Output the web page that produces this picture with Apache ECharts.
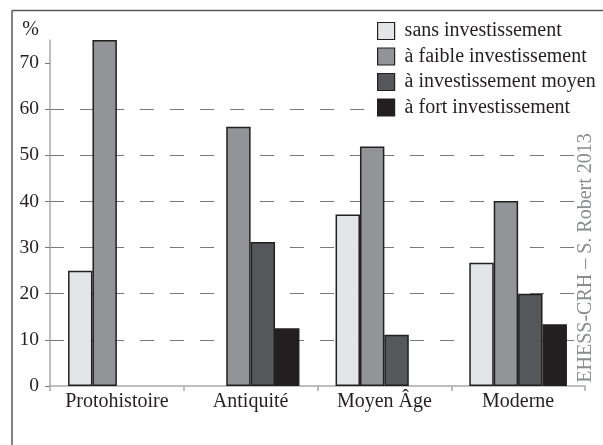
<!DOCTYPE html>
<html>
<head>
<meta charset="utf-8">
<script src="https://cdn.jsdelivr.net/npm/echarts@6/dist/echarts.min.js"></script>
<style>
html,body{margin:0;padding:0;background:#fff;}
#chart{width:603px;height:445px;}
</style>
</head>
<body>
<div id="chart"></div>
<script>
var periodes = ['Protohistoire', 'Antiquité', 'Moyen Âge', 'Moderne'];
var sansInv   = [25, '-', 37.2, 26.7];
var faibleInv = [75, 56.2, 51.9, 40.1];
var moyenInv  = ['-', 31.2, 11.1, 20.0];
var fortInv   = ['-', 12.5, '-', 13.4];
var yTicks = [0, 10, 20, 30, 40, 50, 60, 70];

var serif = '"Liberation Serif", "Times New Roman", serif';
var encre = '#231f20';

function barre(nom, data, couleur) {
	return {
		name: nom,
		type: 'bar',
		data: data,
		barGap: '0%',
		barCategoryGap: '27%',
		itemStyle: { color: couleur, borderColor: encre, borderWidth: 1.5 }
	};
}

var chart = echarts.init(document.getElementById('chart'));
chart.setOption({
	animation: false,
	backgroundColor: '#fff',
	grid: { left: 50, right: 18, top: 40, bottom: 59 },
	legend: {
		orient: 'vertical',
		left: 365,
		top: 17,
		padding: [4, 0, 4, 12],
		backgroundColor: '#fff',
		icon: 'rect',
		itemWidth: 17,
		itemHeight: 17,
		itemGap: 5.5,
		selectedMode: false,
		itemStyle: { borderColor: encre, borderWidth: 1.2 },
		textStyle: { fontFamily: serif, fontSize: 20, color: encre, lineHeight: 20, padding: [0, 0, 0, 5] }
	},
	xAxis: {
		type: 'category',
		data: periodes,
		axisLine: { lineStyle: { color: '#a7a9ac', width: 1.5 } },
		axisTick: { show: true, length: 5, lineStyle: { color: '#a7a9ac', width: 1.5 } },
		axisLabel: { interval: 0, fontFamily: serif, fontSize: 20, color: encre, margin: 6 }
	},
	yAxis: {
		type: 'value',
		min: 0,
		max: 75,
		interval: 10,
		name: '%',
		nameLocation: 'end',
		nameGap: 0,
		nameTextStyle: { fontFamily: serif, fontSize: 20, color: encre, align: 'right', padding: [0, 11, 0, 0] },
		axisLine: { show: true, lineStyle: { color: '#a7a9ac', width: 1.5 } },
		axisTick: { show: true, length: 5, customValues: yTicks, lineStyle: { color: '#77787b', width: 1 } },
		axisLabel: { fontFamily: serif, fontSize: 19.5, color: encre, margin: 11, customValues: yTicks },
		splitLine: {
			show: true,
			showMinLine: false,
			showMaxLine: false,
			lineStyle: { color: '#77787b', width: 1.1, type: [14, 16] }
		}
	},
	graphic: [
		{ type: 'line', shape: { x1: 12, y1: 10.5, x2: 603, y2: 10.5 }, style: { stroke: '#58595b', lineWidth: 1.5 } },
		{ type: 'line', shape: { x1: 12, y1: 10.5, x2: 12, y2: 445 }, style: { stroke: '#58595b', lineWidth: 1.5 } },
		{
			type: 'text',
			x: 586,
			y: 258,
			rotation: Math.PI / 2,
			style: {
				text: 'EHESS-CRH – S. Robert 2013',
				x: 0, y: 0,
				align: 'center',
				verticalAlign: 'middle',
				fontFamily: serif,
				fontSize: 20,
				fill: '#8a8c8e'
			}
		}
	],
	series: [
		barre('sans investissement', sansInv, '#e4e5e7'),
		barre('à faible investissement', faibleInv, '#939497'),
		barre('à investissement moyen', moyenInv, '#55575a'),
		barre('à fort investissement', fortInv, '#231f20')
	]
});
</script>
</body>
</html>
